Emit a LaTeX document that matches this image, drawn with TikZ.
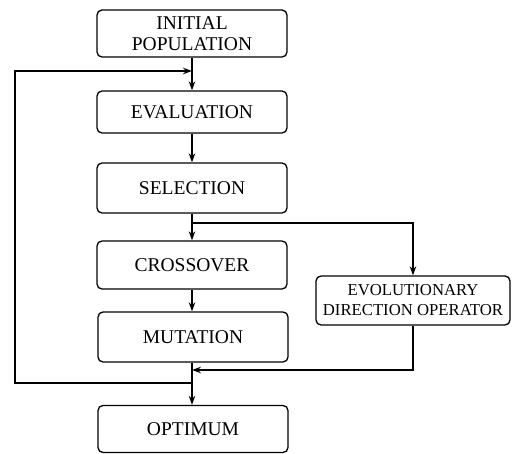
\documentclass[tikz,border=0pt]{standalone}
\usepackage{fontspec}
\setmainfont{Liberation Serif}
\usetikzlibrary{arrows.meta}
\begin{document}
\begin{tikzpicture}[x=1pt,y=-1pt,
  box/.style={draw,line width=1.3pt,rounded corners=5pt,minimum width=190pt,inner sep=0pt,align=center,font=\fontsize{19.5}{21}\selectfont},
  edobox/.style={draw,line width=1.3pt,rounded corners=5pt,minimum width=194pt,inner sep=0pt,align=center,font=\fontsize{16.7}{20}\selectfont},
  conn/.style={line width=1.3pt},
  arr/.style={conn,-{Stealth[length=9pt,width=6.5pt]}}]
\useasboundingbox (0,0) rectangle (515,454);
\node[box,minimum height=47pt] (init) at (192,33.5) {INITIAL\\POPULATION};
\node[box,minimum height=42pt] (eval) at (192,112) {EVALUATION};
\node[box,minimum height=50pt] (sel) at (192,188) {SELECTION};
\node[box,minimum height=48pt] (cross) at (192,265) {CROSSOVER};
\node[box,minimum height=50pt] (mut) at (193,337) {MUTATION};
\node[box,minimum height=47pt] (opt) at (193,429) {OPTIMUM};
\node[edobox,minimum height=49pt] (edo) at (413,300.5) {EVOLUTIONARY\\DIRECTION OPERATOR};
\coordinate (looptop) at (192,71);
\coordinate (loopbot) at (192,383);
\coordinate (branch) at (192,223);
\coordinate (merge) at (192,370);
\draw[arr] (init.south -| looptop) -- (eval.north -| looptop);
\draw[arr] (eval.south -| looptop) -- (sel.north -| looptop);
\draw[arr] (sel.south -| looptop) -- (cross.north -| looptop);
\draw[arr] (cross.south -| looptop) -- (mut.north -| looptop);
\draw[arr] (mut.south -| looptop) -- (opt.north -| looptop);
\draw[arr] (loopbot) -- (15,383) -- (15,71) -- (looptop);
\draw[arr] (branch) -| (edo.north);
\draw[arr] (edo.south) |- (merge);
\end{tikzpicture}
\end{document}
